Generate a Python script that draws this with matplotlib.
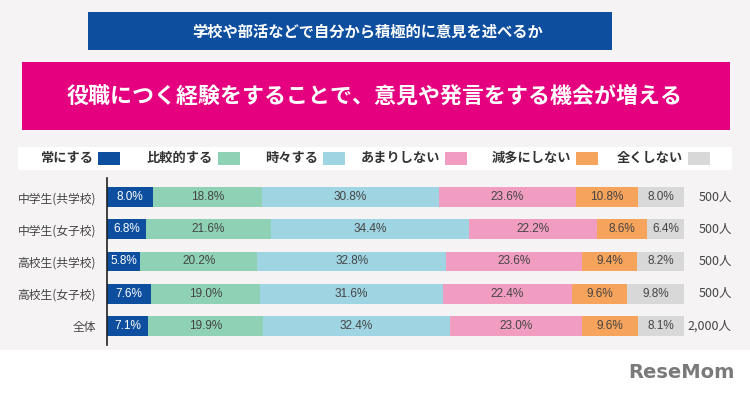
import numpy as np
import matplotlib.pyplot as plt
from matplotlib.patches import Rectangle

plt.rcParams['font.family'] = ['Noto Sans CJK JP', 'DejaVu Sans']

# データ
groups = ['中学生(共学校)', '中学生(女子校)', '高校生(共学校)', '高校生(女子校)', '全体']
categories = ['常にする', '比較的する', '時々する', 'あまりしない', '減多にしない', '全くしない']
always = [8.0, 6.8, 5.8, 7.6, 7.1]
fairly = [18.8, 21.6, 20.2, 19.0, 19.9]
sometimes = [30.8, 34.4, 32.8, 31.6, 32.4]
rarely = [23.6, 22.2, 23.6, 22.4, 23.0]
seldom = [10.8, 8.6, 9.4, 9.6, 9.6]
never = [8.0, 6.4, 8.2, 9.8, 8.1]
counts = ['500人', '500人', '500人', '500人', '2,000人']

series = [always, fairly, sometimes, rarely, seldom, never]
colors = ['#0d4f9e', '#8ed1b5', '#9fd5e3', '#f19dc2', '#f6a35c', '#d9d8d8']
txt_colors = ['white', '#444444', '#444444', '#444444', '#444444', '#444444']

W, H = 750, 397
fig = plt.figure(figsize=(7.5, 3.97), dpi=100, facecolor='white')

def fx(px):
    return px / W

def fy(py):
    return 1 - py / H

# 背景
fig.patches.append(Rectangle((0, fy(350)), 1, 350 / H, transform=fig.transFigure,
                             facecolor='#f5f3f3', edgecolor='none', zorder=-3))
# 見出しバナー
fig.patches.append(Rectangle((fx(88), fy(50)), fx(612 - 88), 38 / H, transform=fig.transFigure,
                             facecolor='#0d4f9e', edgecolor='none', zorder=-2))
fig.text(fx(368), fy(31), '学校や部活などで自分から積極的に意見を述べるか', color='white',
         fontsize=11, fontweight='bold', ha='center', va='center')
fig.patches.append(Rectangle((fx(22), fy(130)), fx(730 - 22), 68 / H, transform=fig.transFigure,
                             facecolor='#e4007f', edgecolor='none', zorder=-2))
fig.text(fx(375), fy(96), '役職につく経験をすることで、意見や発言をする機会が増える', color='white',
         fontsize=15.8, fontweight='bold', ha='center', va='center')

# 凡例
fig.patches.append(Rectangle((fx(18), fy(170)), fx(732 - 18), 23 / H, transform=fig.transFigure,
                             facecolor='white', edgecolor='none', zorder=-2))
sq_left = [98, 218, 323, 445, 576, 688]
for lab, c, sx in zip(categories, colors, sq_left):
    fig.patches.append(Rectangle((fx(sx), fy(165)), fx(22), 13 / H, transform=fig.transFigure,
                                 facecolor=c, edgecolor='none', zorder=-1))
    fig.text(fx(sx - 5), fy(158), lab, color='#333333', fontsize=9.5, fontweight='bold',
             ha='right', va='center')

# 帯グラフ
ax = fig.add_axes([fx(107), fy(345), fx(684 - 107), 167 / H])
ax.set_facecolor('none')
y = np.arange(len(groups))
left = np.zeros(len(groups))
for vals, c, tc in zip(series, colors, txt_colors):
    vals = np.array(vals)
    ax.barh(y, vals, left=left, height=0.62, color=c, edgecolor='none')
    for yi, l, v in zip(y, left, vals):
        ax.text(l + v / 2, yi, f'{v:.1f}%', color=tc, fontsize=8.5,
                ha='center', va='center', family=['Liberation Sans'])
    left += vals

for yi, n in zip(y, counts):
    ax.text(108.3, yi, n, ha='right', va='center', fontsize=9, color='#444444')

ax.set_xlim(0, 100)
ax.set_ylim(4.6, -0.6)
ax.set_yticks(y)
ax.set_yticklabels(groups, fontsize=8.5, color='#444444')
ax.tick_params(axis='y', length=0, pad=8)
ax.set_xticks([])
for s in ['top', 'right', 'bottom']:
    ax.spines[s].set_visible(False)
ax.spines['left'].set_color('#222222')
ax.spines['left'].set_linewidth(1.2)

# ロゴ
fig.text(fx(735), fy(373), 'ReseMom', color='#7a7a7a', fontsize=14, fontweight='bold',
         ha='right', va='center', family=['DejaVu Sans'])

plt.savefig('out.png', dpi=100, facecolor=fig.get_facecolor())
